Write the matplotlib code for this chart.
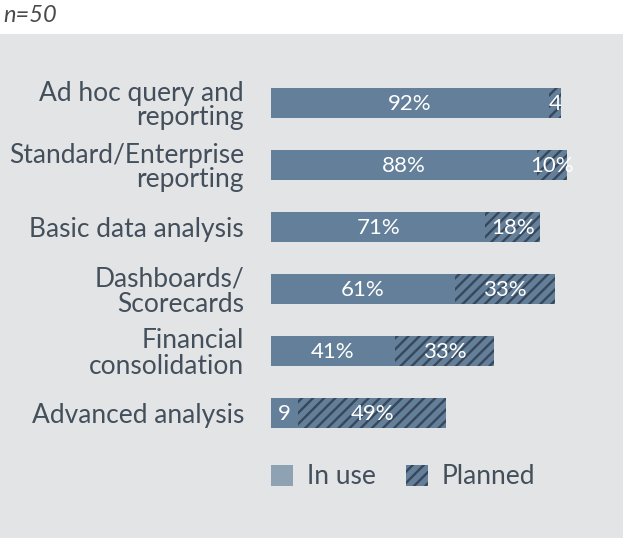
import matplotlib.pyplot as plt
from matplotlib.patches import Patch, Rectangle

plt.rcParams['font.family'] = ['Lato', 'DejaVu Sans']
plt.rcParams['hatch.linewidth'] = 1.7
plt.rcParams['hatch.color'] = '#38475a'

# data
categories = ["Ad hoc query and\nreporting", "Standard/Enterprise\nreporting",
              "Basic data analysis", "Dashboards/\nScorecards",
              "Financial\nconsolidation", "Advanced analysis"]
in_use = [92, 88, 71, 61, 41, 9]
planned = [4, 10, 18, 33, 33, 49]
in_use_labels = ["92%", "88%", "71%", "61%", "41%", "9"]
planned_labels = ["4", "10%", "18%", "33%", "33%", "49%"]

bar_color = '#637f99'
swatch_color = '#8fa2b4'
text_color = '#434f5b'
bg_color = '#e3e4e6'

W, H = 623, 538
fig = plt.figure(figsize=(W / 100, H / 100), dpi=100)
fig.patch.set_facecolor('white')
fig.patches.append(Rectangle((0, 0), 1, 1 - 34 / H, transform=fig.transFigure,
                             facecolor=bg_color, edgecolor='none', zorder=-10))
fig.text(3 / W, 1 - 16 / H, "n=50", fontsize=17, style='italic', color='#4a4a4a',
         va='center', ha='left')

# axes: x 0..100 maps to px 271..573, rows 62px apart
ax = fig.add_axes([271 / W, 1 - 444 / H, 302 / W, 372 / H])
ax.set_facecolor('none')
y = list(range(len(categories)))
ax.barh(y, in_use, height=0.484, color=bar_color, edgecolor='none')
ax.barh(y, planned, left=in_use, height=0.484, color=bar_color,
        edgecolor='#38475a', linewidth=0, hatch='///')

for i in y:
    ax.text(in_use[i] / 2, i + 0.02, in_use_labels[i], ha='center', va='center',
            color='white', fontsize=16)
    ax.text(in_use[i] + planned[i] / 2, i + 0.02, planned_labels[i], ha='center',
            va='center', color='white', fontsize=16)

ax.set_xlim(0, 100)
ax.set_ylim(len(categories) - 0.5, -0.5)
ax.set_yticks(y)
ax.set_yticklabels(categories, fontsize=19, color=text_color, linespacing=1.0)
ax.tick_params(axis='y', length=0, pad=19.5)
ax.set_xticks([])
for s in ax.spines.values():
    s.set_visible(False)

handles = [Patch(facecolor=swatch_color, edgecolor='none', label='In use'),
           Patch(facecolor=bar_color, edgecolor='#38475a', linewidth=0,
                 hatch='///', label='Planned')]
fig.legend(handles=handles, loc='center left', bbox_to_anchor=(260.5 / W, 1 - 477 / H),
           ncol=2, frameon=False, fontsize=19, labelcolor=text_color,
           borderaxespad=0, handlelength=0.83, handleheight=0.83,
           handletextpad=0.53, columnspacing=1.14)

fig.savefig('out.png', dpi=100, facecolor=fig.get_facecolor())
